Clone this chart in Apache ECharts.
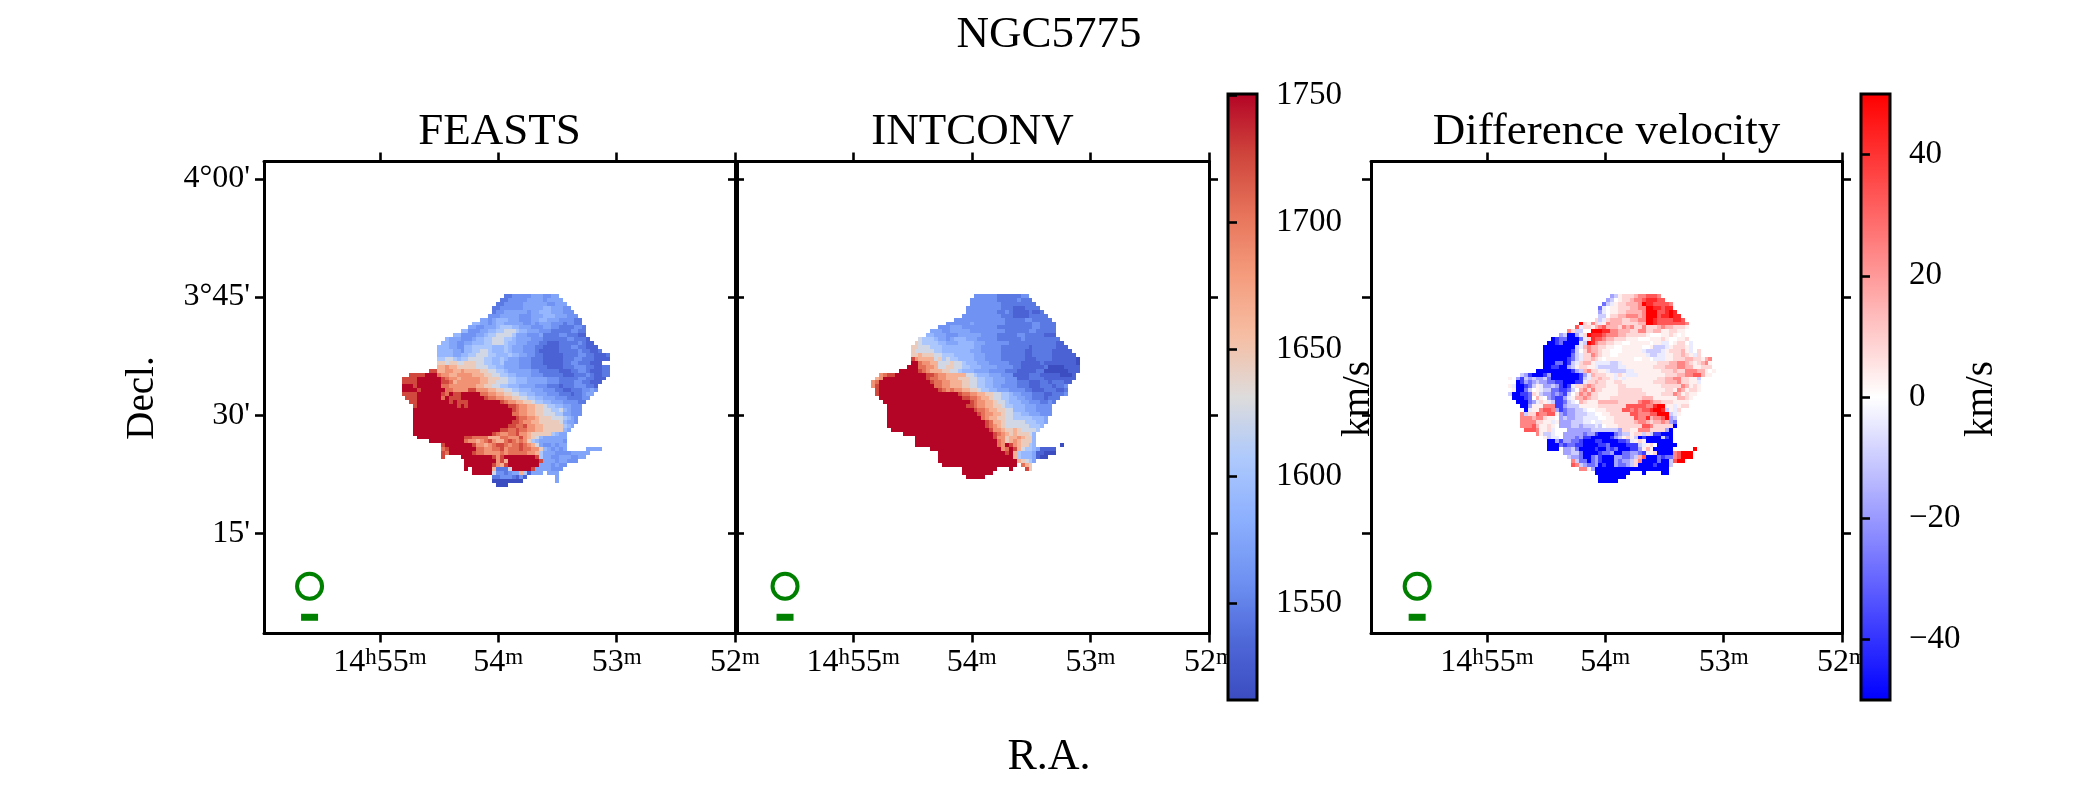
<!DOCTYPE html>
<html>
<head>
<meta charset="utf-8">
<style>html,body{margin:0;padding:0;background:#fff}#main{width:2100px;height:787px}</style>
<script src="https://cdn.jsdelivr.net/npm/echarts@6/dist/echarts.min.js"></script>
</head>
<body>
<div id="main"></div>
<script>
// velocity, km/s per colour step
var velocityLevels = {a:1513,b:1530,c:1545,d:1560,e:1575,f:1590,g:1605,h:1625,i:1645,j:1665,k:1685,l:1705,m:1725,n:1750};
var diffLevels = {A:-50,B:-38,C:-28,D:-18,E:-10,F:-4,w:0,t:3,u:8,v:15,x:24,y:33,z:42,Z:50};

// rows top to bottom: first number is the start column, then colour step + run length
var feastsRows = [
"26 c2 d5 e3 d2 e2","25 c2 d5 e4 d1 e4","24 c2 d5 e6 d2 e3","23 c2 d6 e5 f2 e3 d2","23 c1 d2 e6 d1 e2 f3 e3 d3",
"22 d3 e5 d3 e3 f3 e3 d3","20 e2 d1 e1 f3 e3 d3 e2 f2 e3 d4 c2","18 f2 e2 d1 e1 f2 e5 d2 e1 d1 e3 d3 c1 d2 c2",
"17 e2 d2 e3 f1 g3 f2 e3 d3 e2 d2 c4 d2 c1","15 f2 d3 e2 f2 g2 h3 g1 f2 e3 d3 c5 d2 c2",
"13 f2 d4 e2 f1 g2 h4 g1 e3 d3 e1 c4 d2 c3 b2","11 f1 e3 d3 e1 f2 g2 h3 g2 f1 e4 d3 c6 d2 c3 b1",
"10 f2 e2 d2 e2 f3 g2 h3 g1 f2 e3 d3 c2 b3 c5 d1 c1 b2","9 f3 e2 d2 f2 g3 g2 f3 g1 f1 e3 d3 c2 b4 c3 d2 c2 b3",
"9 f4 e2 d1 f2 g2 h2 g1 f3 g1 f1 e3 d3 c1 b5 c5 d1 c2 b2 c1","9 f4 e2 f2 g2 h3 g2 f3 g1 f2 e2 d2 c2 b5 c4 d2 c2 b3 c1",
"9 g2 h2 g1 f1 g2 h4 g2 f2 g1 f1 e3 d3 c3 b5 c3 d2 c3 b4","9 i2 h1 i2 h2 i3 h2 g2 f2 g1 e4 d3 c3 b5 c2 d2 c2 c1 b3",
"9 j2 k1 j2 i2 i3 h1 h2 g2 f2 e4 d3 c4 b4 c3 d3 c2 b2 c2","7 m2 j2 k2 j2 k1 j4 i2 h2 g2 f1 e6 d2 c5 b3 c2 d2 c1 b3 c2",
"2 m4 n3 l1 k2 j2 k4 j3 i2 h2 g2 f2 e4 d3 c5 b3 c3 d1 c1 b2 c2","0 m4 n6 m1 l1 k2 j1 k5 j2 i3 h2 g2 f3 e5 d3 c5 d2 c2 b3",
"0 m4 n6 m2 l1 j1 k6 j2 i2 h3 g2 f3 e5 d3 c4 d2 c2 b3","0 n3 m1 n6 l2 k7 j2 i2 h2 g2 f3 e4 d3 c3 b1 c3 d3 c2 b1",
"0 n4 m1 n6 l2 k4 m2 k3 j2 i2 h2 g2 f3 e3 d3 c2 b2 c3 d2 e1 d1","0 m4 n6 m1 l1 n1 m2 n5 l2 k2 j2 i2 h2 g2 f2 e3 d3 c3 b1 c2 d1 e2",
"1 m3 n6 l1 n1 m3 n6 m1 l2 k2 j2 i2 h2 g2 f2 e3 d3 c4 d2","2 m2 n8 m1 n1 m3 n8 m1 l1 k2 j2 i2 h1 g2 f2 e3 d4 c2",
"3 m1 n9 n1 m1 n1 m1 n10 m2 l1 k2 j2 i2 h1 g2 f2 e2 d3","3 n25 m1 l1 k2 j2 i2 h2 g2 h1 f1 e1 d3","3 n25 l2 k2 j2 i2 h3 g2 e2 d3",
"3 n26 m1 l2 k2 j1 i3 h3 g1 f1 e1 d1","3 n25 m2 l1 k2 j2 i5 h1 f1 e2 d1","3 n24 m2 l2 m1 k2 j2 i5 g1 f1 e1",
"3 n22 m2 l2 m1 l2 k2 j2 i5 f1 e1","3 n20 m1 l1 k2 l2 m1 k2 j1 i5 g1 f1 e2","4 n12 m2 l4 j3 l2 k3 m1 k1 j1 i1 h1 f1 e6",
"7 n9 l1 k2 j1 k1 l1 m1 k1 j2 l1 m1 l1 k1 l1 k1 i1 g1 f1 e6 d1","10 m1 n7 m1 k2 j1 k1 l1 m2 l1 k1 l2 m1 l1 k1 j1 h1 e1 d2 e1 d1 e2",
"10 l1 m1 n7 l2 k2 l2 m1 k1 l3 m1 l2 k2 i1 f1 e1 d1 e1 d1 e1 .5 e4","10 m1 l1 n6 m1 l2 k4 l1 k1 l5 k2 j1 g1 e3 d4 e5",
"10 m1 .4 n8 m1 k1 m1 n8 m1 g1 e2 d2 e3 d2 e2","16 n8 k1 m1 j1 n8 m1 e3 d1 e2 d3","16 n7 m1 k1 j1 m1 n8 e3 d1 e1 d2",
"16 n1 .1 n5 j1 c3 h1 n5 m1 e4 d3","18 n5 h1 d2 c1 d1 e2 j1 g1 b1 e3 .1 e3","23 c2 d3 c1 b1 d1 b1 .7 e1","23 a8 .8 e1","24 a3"
];
var intconvRows = [
"26 d6 c6 d2","25 d7 c5 d1 c3","25 d8 c9","24 d9 c3 b3 c4","24 d8 c2 d1 c1 b4 c1 b2 c1","23 d10 c3 b4 c5","21 d10 d3 c5 d2 c5",
"19 d6 e1 d6 d2 c7 d2 c4","17 d3 e3 d9 c9 d2 c4","15 e3 d2 e5 d9 c6 d2 c5","14 f2 e3 d3 e6 d4 c5 d2 c5 b3",
"12 h1 g3 f1 e2 d1 e1 f3 e3 d5 c6 d1 c6 c3","11 i1 h1 g4 f2 e3 f4 e3 d6 c7 c5 b2","10 i2 h3 g3 f3 f5 e2 d5 c7 b1 c6 b3",
"10 i1 h5 g2 f2 f5 e3 d5 c6 b2 c5 b5","10 i2 j1 i3 h2 g3 f5 e3 d4 c6 b2 c5 b6","10 m1 k1 j4 h1 i1 g1 h1 g2 f4 e3 d4 c6 b3 c4 b6 a1",
"10 n2 l1 k2 j2 h1 h2 i1 h2 g1 f3 e3 d5 c3 b5 c1 b8 a1","9 n3 l1 l1 k2 j1 h2 i2 h2 g2 f3 e4 d4 c2 b6 c1 a4 b4",
"7 n5 m1 l1 k1 j3 i2 h2 g1 f3 e1 e3 d4 c3 b5 c2 a6 b3","2 k1 l1 m2 n8 m2 l1 k1 k1 j3 j2 h2 g1 f3 e3 d3 b4 c3 b5 a3 b1",
"1 j1 k1 n11 m1 l2 k2 j3 i2 i1 h2 g2 f2 e3 d3 b3 c4 b8","0 k1 l1 n13 m1 l2 k2 j3 i2 h2 g2 f2 e3 d3 c3 b3 c2 b1 c3 b2",
"0 k1 m1 n14 l2 k2 j3 i2 h2 g2 f2 e2 d4 c3 b3 c3 b1 c2 d1","1 m1 n15 m1 l1 k1 l1 k2 j2 i2 h1 g2 f2 e3 d4 c2 b3 c3 b2 c1",
"1 m1 n20 m1 l2 k2 j2 i2 h2 g2 f1 e2 d3 c3 b2 c3 d1","2 n21 m2 l2 k1 j2 i1 h2 g2 f2 e2 d2 c3 b1 c3","3 n22 m1 l1 k2 j2 i1 h2 g1 f3 e2 d3 c2 d1 c1",
"4 n20 m2 l1 k1 k1 j2 i2 h1 g2 f3 e3 d4","4 n22 m1 l2 k1 j2 i2 h2 f3 e3 d4","4 n23 m1 l1 k2 j2 i1 h2 g2 f2 e3 d3","4 n24 l1 k1 j2 i2 h2 g3 g2 f3 e1",
"4 n25 m1 l1 j2 i1 h3 h2 g3 f2 e1","4 n25 m1 l1 k1 j1 i1 h3 h3 g3 f1","5 n25 m1 k2 j1 i2 j1 i1 h2 h2 g1","8 n23 m1 l1 k1 j1 i1 j1 i3 h1 f1",
"11 n20 m1 k2 i1 j2 k1 j1 i2 f1","11 n21 l1 k1 i1 j1 k1 j1 i3 f1","11 n21 l1 k1 n1 m1 k1 j1 i2 g1 f1 .6 a1",
"15 n18 k1 l1 n1 m1 j1 h1 g2 f1 e1 b4","17 n17 m1 n1 j1 g1 f3 e1 b2 a3","17 n19 j1 g1 f3 e1 b1 a2","17 n20 j1 i1 h1 g1 e1",
"18 n19 .1 l1 j1 i1","23 n9 .3 n1 .3 m1 i1","23 n8","24 n5"
];
var diffRows = [
"26 D1 E1 t1 u1 u2 v1 x2 y3 x1","25 D1 E1 w1 t1 u2 v1 x2 y1 z3 y2","24 C1 E1 F1 t1 u2 v3 x1 Z1 z2 y4 x1","23 C1 F1 w1 t2 u3 v2 x2 Z2 z2 y1 z2",
"23 D1 F1 w1 t2 u2 v4 x1 Z3 y2 z1 Z1 z1","23 E2 w1 u2 v2 x3 v1 x1 Z3 y1 z2 Z1 z2","22 u1 E1 F1 u1 v3 u2 v2 x1 x1 Z2 z1 y2 y2 z2 y1",
"18 Z1 u1 t1 x1 u1 F1 t1 x1 v3 u2 u2 v2 Z2 z1 y5 y2 x1","17 y1 F1 u2 t1 v1 x1 y1 v3 u1 x1 v1 x1 u2 x1 u3 v1 x1 v2 u3 t1",
"15 x1 u1 E2 w2 Z3 z2 x2 v3 u2 x2 u2 v2 t2 u2 t2","13 D1 E1 A2 D1 F1 u1 Z1 z3 y1 x3 v2 u2 u3 t1 w3 t2 u1 t1 w1 t1",
"11 A1 B1 C2 A2 A1 C1 F1 u1 z1 y2 x1 v2 u3 t3 w3 t3 u1 t1 w2 t2 u1","10 A2 B1 C1 A4 F1 E1 Z1 z1 x1 v2 u2 t2 w2 t5 w1 t2 F2 w1 t1 u2 w1 F1",
"9 A7 A1 E1 F1 v1 x1 v2 u2 t2 w2 t5 w2 t1 E3 F1 t1 u3 t1 F1 w1","9 A7 B1 E1 w1 u1 x1 v2 u1 t2 w3 t5 F1 E4 F1 t1 u3 v1 t1 F1 w1 u1",
"9 A7 C1 E1 F1 u2 x1 v1 u1 t2 w2 t5 t2 F1 E2 F2 t2 u2 v1 u1 t1 F1 u1","9 A6 B1 C1 E1 F1 u2 v1 u1 t1 w1 t4 t3 w2 t2 w1 F3 t2 u3 v2 u2 t1 v1 x1",
"9 A3 C2 A1 B1 E1 F1 u1 v2 t1 F4 E2 F1 t9 u3 v2 x2 v1 u1 t1 u1 v1 x1 t1","9 A2 B2 A1 A1 D1 E1 t1 u2 t2 F1 E5 F2 t7 u3 v3 x2 v2 t2 u3",
"7 A9 B1 D1 E1 v1 x1 u2 t2 F1 E3 E1 F2 t7 u3 v1 u2 x3 v2 t1 w1 t1","3 E1 D1 B1 A3 B1 D1 A7 B1 D1 F1 v1 u3 t2 F1 u1 t1 F3 t7 u3 v2 x2 y2 v1 t2",
"0 t1 w1 D1 B1 E1 D1 E1 D2 E1 C1 A7 B1 E1 F1 u2 v1 u2 t1 F1 t1 F1 t8 u2 v2 x1 x1 u2 t2 E1","1 w1 A1 B1 D1 C1 D1 E1 D1 D1 C2 B2 A3 B2 F1 u2 v1 u2 t2 u2 t8 u3 v3 x1 u2 t2 F1 w1",
"0 t1 F1 A2 B1 C1 E1 t1 F1 D2 E1 D1 B1 A1 B1 F1 u2 v1 x1 v1 u3 t3 u2 t9 u5 x1 v1 t1 u1 t1 w1","1 t1 A2 C1 E1 w1 t1 F1 E2 C2 B2 C1 E1 w1 v1 x1 u1 x1 u2 t4 u6 t6 u2 t1 x1 v1 t1 u2 t1",
"0 E1 A2 B2 C1 u1 t1 E1 D2 C1 D1 C1 B1 E1 w1 u1 x1 v1 x1 u2 t5 u7 t4 u1 u2 x1 v1 t1 u1 t2","1 A3 B1 C1 w1 v1 t1 w1 D1 C1 B2 D1 F1 t1 v2 x1 v1 u2 t3 u8 v3 t6 v2 u1 t1",
"2 A3 C1 D1 F1 u1 t1 F1 E1 B2 C1 E1 F1 w1 v1 u1 t3 v2 v3 u5 x1 y2 x1 v2 u2 u1 t4","3 A2 D1 t3 x3 B2 D1 E3 t5 u7 y5 x2 z1 Z2 t2 F1 t1 u2",
"4 A1 F1 t2 x1 y2 x1 D1 B1 C1 D2 E2 F1 w2 t3 u4 y2 x1 y1 x1 y2 z1 Z2 z1 E1 t1 F1 u1","3 x1 E1 u2 y1 x2 y2 t1 D1 C1 D2 E3 F2 w2 t2 u5 y2 x3 y2 Z3 E1 F1 t1 w1",
"3 x3 v1 x2 u1 t2 w1 D1 E1 D2 E2 F2 F2 w2 t2 u3 u2 y1 x2 z1 v1 x2 y1 Z1 D1 E1","3 x4 u2 t2 F1 t1 D1 D2 E1 E2 F2 w1 F2 t3 u5 v1 x2 v1 u1 v2 x1 v1 D1 C1",
"3 x3 y1 v1 t2 u1 t1 w1 D3 E2 D1 E3 F1 E1 w1 t3 u6 y2 x1 u4 u1 A1","4 y3 x1 t2 u1 F1 w3 D4 D2 E3 E4 D1 u2 t2 x3 u4 D1 A1",
"7 x1 t1 E2 F1 w2 D3 D2 C1 D2 B1 A4 C1 D1 E1 E1 t1 u2 E1 u1 E1 B1 B1 A2 A1","9 t1 E1 F2 w1 D2 D1 C1 D1 B2 A5 B1 D1 E1 t1 u1 t1 E1 A1 B1 A4 E1 B1 A1",
"10 A2 D1 B1 D2 C1 C1 B1 A3 B2 A4 B2 C1 F1 t1 u1 t1 A7","10 A3 C1 B1 C2 B2 A4 B2 C1 A4 B3 E1 F1 t1 u1 w1 A5",
"10 A3 .1 D2 E1 C1 A4 B1 A2 C1 B1 C1 A3 B2 D1 t1 v1 t1 A5 .5 Z1","14 D2 E2 C1 A4 B1 C2 D1 A2 C2 D2 C1 B1 F1 t1 u1 A4 x1 y1 Z3",
"15 E1 D2 C1 A2 C1 D1 B1 A3 D2 C2 D1 E1 v1 y1 A3 C1 B1 C2 x1 y1 Z3","16 x1 E1 C2 A1 C1 D1 B1 A3 D1 C1 D2 E1 u1 x1 A4 C1 A2 E1 y1 Z2",
"16 y1 x1 E1 D1 C2 D1 A1 B1 A2 D1 C2 D1 E1 u1 A4 B1 A3 E1","18 x2 t1 D1 A19","22 A9 .3 A1 .4 A2","23 A7","23 A5"
];

var raTicks = [52, 53, 54, 55];
var decTicks = [15, 30, 45, 60];
var velocityTicks = [1550, 1600, 1650, 1700, 1750];
var diffTicks = [-40, -20, 0, 20, 40];
var beamRa = [55.595, 55.575, 55.59];
var coolwarm = ['#3b4cc0','#4f69d9','#6f92f3','#8db0fe','#aec9fc','#dddcdc','#f6bea4','#f59c7d','#e7745b','#cf453c','#b40426'];
var bwr = ['#0000ff','#ffffff','#ff0000'];

var serif = '"Liberation Serif","Times New Roman",serif';
var gridSize = 120;
var raMin = 52, raMax = 55.98, decMin = 2.27, decMax = 62.2;
var panels = [
	{name:'FEASTS', left:264, width:471, heatLeft:264, rows:feastsRows, levels:velocityLevels, col:35},
	{name:'INTCONV', left:737, width:472, heatLeft:737.7, rows:intconvRows, levels:velocityLevels, col:34},
	{name:'Difference velocity', left:1371, width:471, heatLeft:1370.5, rows:diffRows, levels:diffLevels, col:35}
];

// 解码 one panel's rows to cells
function decode(rows, levels, col){
	var out = [];
	rows.forEach(function(row, r){
		var parts = row.split(' ');
		var c = +parts[0];
		for(var i = 1; i < parts.length; i++){
			var ch = parts[i].charAt(0), n = +parts[i].slice(1);
			for(var k = 0; k < n; k++){
				if(ch != '.') out.push([c + col, r + 34, levels[ch]]);
				c++;
			}
		}
	});
	return out;
}

// a cell snapped to whole pixels, heatmap leaves a faint grid at this band width
function renderCell(params, api){
	var p = api.coord([api.value(0), api.value(1)]);
	var s = api.size([1, 1]);
	var x0 = Math.round(p[0] - s[0] / 2), x1 = Math.round(p[0] + s[0] / 2);
	var y0 = Math.round(p[1] - s[1] / 2), y1 = Math.round(p[1] + s[1] / 2);
	return {type:'rect', shape:{x:x0, y:y0, width:x1 - x0, height:y1 - y0}, style:{fill:api.visual('color')}};
}

var cats = [];
for(var i = 0; i < gridSize; i++) cats.push(String(i));

var grid = [], xAxis = [], yAxis = [], series = [], title = [];

function raLabel(v){
	if(Math.round(v) == 55) return '14{s|h}55{s|m}';
	return Math.round(v) + '{s|m}';
}
function decLabel(v){
	if(v == 60) return "4°00'";
	if(v == 45) return "3°45'";
	return v + "'";
}
var tickStyle = {show:true, length:9, inside:false, lineStyle:{color:'#000', width:2.6}};
var lineStyle = {show:true, onZero:false, lineStyle:{color:'#000', width:3}};

panels.forEach(function(p, i){
	// hidden category grid for the cells
	grid.push({left:p.heatLeft, top:160.4, width:471.6, height:471.6});
	xAxis.push({type:'category', gridIndex:grid.length-1, data:cats, show:false});
	yAxis.push({type:'category', gridIndex:grid.length-1, data:cats, inverse:true, show:false});
	series.push({type:'custom', xAxisIndex:xAxis.length-1, yAxisIndex:yAxis.length-1, data:decode(p.rows, p.levels, p.col),
		encode:{x:0, y:1}, renderItem:renderCell, progressive:0, silent:true});

	// frame and ticks
	grid.push({left:p.left, top:161.5, width:p.width, height:472});
	var g = grid.length-1;
	xAxis.push({type:'value', gridIndex:g, position:'bottom', inverse:true, min:raMin, max:raMax, splitLine:{show:false},
		axisLine:lineStyle, axisTick:Object.assign({customValues:raTicks}, tickStyle),
		axisLabel:{customValues:raTicks, color:'#000', fontFamily:serif, fontSize:32, margin:13, formatter:raLabel,
			showMinLabel:true, showMaxLabel:true, hideOverlap:false,
			rich:{s:{fontFamily:serif, fontSize:23, verticalAlign:'top', color:'#000', lineHeight:28}}}});
	var xb = xAxis.length-1;
	xAxis.push({type:'value', gridIndex:g, position:'top', inverse:true, min:raMin, max:raMax, splitLine:{show:false},
		axisLine:lineStyle, axisTick:Object.assign({customValues:raTicks}, tickStyle), axisLabel:{show:false}});
	yAxis.push({type:'value', gridIndex:g, position:'left', min:decMin, max:decMax, splitLine:{show:false},
		axisLine:lineStyle, axisTick:Object.assign({customValues:decTicks}, tickStyle),
		axisLabel:{show:i==0, customValues:decTicks, color:'#000', fontFamily:serif, fontSize:32, margin:14, formatter:decLabel}});
	var yl = yAxis.length-1;
	yAxis.push({type:'value', gridIndex:g, position:'right', min:decMin, max:decMax, splitLine:{show:false},
		axisLine:lineStyle, axisTick:Object.assign({customValues:decTicks}, tickStyle), axisLabel:{show:false}});

	// beam circle and its bar
	series.push({type:'scatter', xAxisIndex:xb, yAxisIndex:yl, data:[[beamRa[i], 8.27]], symbol:'circle', symbolSize:25, silent:true,
		itemStyle:{color:'rgba(0,0,0,0)', borderColor:'#008000', borderWidth:4, opacity:1}});
	series.push({type:'scatter', xAxisIndex:xb, yAxisIndex:yl, data:[[beamRa[i], 4.33]], symbol:'rect', symbolSize:[17,7], silent:true,
		itemStyle:{color:'#008000', opacity:1}});

	title.push({text:p.name, left:p.left + 230.5, top:127, textAlign:'center', textVerticalAlign:'middle',
		textStyle:{fontFamily:serif, fontSize:45, fontWeight:'normal', color:'#000'}});
});
title.push({text:'NGC5775', left:1044, top:30, textAlign:'center', textVerticalAlign:'middle',
	textStyle:{fontFamily:serif, fontSize:45, fontWeight:'normal', color:'#000'}});

// colorbar frames
function addBar(left, min, max, ticks, fmt){
	grid.push({left:left, top:94, width:29, height:606, show:true, backgroundColor:'transparent', borderColor:'#000', borderWidth:3, z:5});
	var g = grid.length-1;
	xAxis.push({type:'value', gridIndex:g, show:false, min:0, max:1});
	yAxis.push({type:'value', gridIndex:g, position:'right', min:min, max:max, splitLine:{show:false}, z:5,
		axisLine:{show:false}, axisTick:Object.assign({customValues:ticks}, tickStyle),
		axisLabel:{customValues:ticks, color:'#000', fontFamily:serif, fontSize:33, margin:19, padding:[4,0,0,0], formatter:fmt}});
}
addBar(1228, 1512, 1750.4, velocityTicks, function(v){ return String(v); });
addBar(1861, -50, 50, diffTicks, function(v){ return v < 0 ? '\u2212' + (-v) : String(v); });

function rotated(text, x, y, rot){
	return {type:'text', x:x, y:y, rotation:rot, style:{text:text, fontFamily:serif, fontSize:39, fill:'#000', textAlign:'center', textVerticalAlign:'middle'}};
}

var myChart = echarts.init(document.getElementById('main'), null, {renderer:'canvas'});
myChart.setOption({
	animation:false,
	backgroundColor:'#fff',
	title:title,
	grid:grid,
	xAxis:xAxis,
	yAxis:yAxis,
	visualMap:[
		{type:'continuous', min:1512, max:1750.4, dimension:2, seriesIndex:[0,3], inRange:{color:coolwarm}, left:1228, top:94,
			itemWidth:29, itemHeight:606, padding:0, calculable:false, hoverLink:false, text:null, showLabel:false},
		{type:'continuous', min:-50, max:50, dimension:2, seriesIndex:[6], inRange:{color:bwr}, left:1861, top:94,
			itemWidth:29, itemHeight:606, padding:0, calculable:false, hoverLink:false, text:null, showLabel:false}
	],
	series:series,
	graphic:[
		rotated('Decl.', 143, 398, Math.PI/2),
		rotated('km/s', 1359, 399, Math.PI/2),
		rotated('km/s', 1982, 399, Math.PI/2),
		{type:'text', x:1049, y:757, style:{text:'R.A.', fontFamily:serif, fontSize:44, fill:'#000', textAlign:'center', textVerticalAlign:'middle'}}
	]
});
</script>
</body>
</html>
